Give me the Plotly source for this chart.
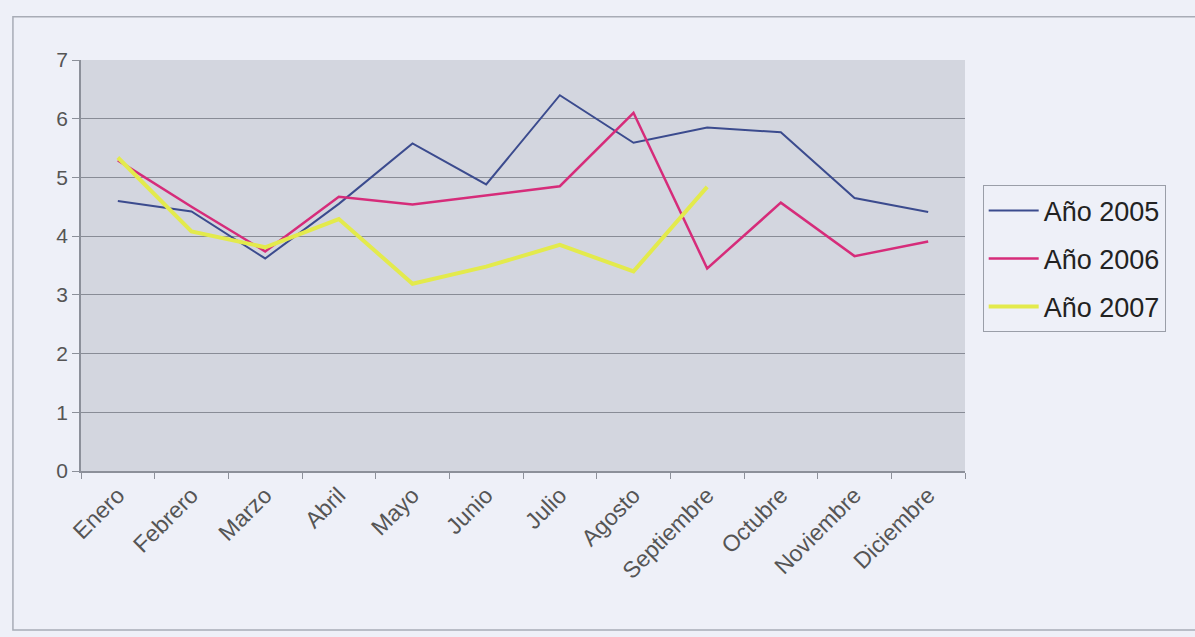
import plotly.graph_objects as go

meses = ["Enero", "Febrero", "Marzo", "Abril", "Mayo", "Junio", "Julio",
         "Agosto", "Septiembre", "Octubre", "Noviembre", "Diciembre"]
anio_2005 = [4.60, 4.42, 3.62, 4.55, 5.58, 4.88, 6.40, 5.59, 5.85, 5.77, 4.65, 4.41]
anio_2006 = [5.29, 4.50, 3.74, 4.67, 4.54, 4.70, 4.85, 6.10, 3.45, 4.57, 3.66, 3.91]
anio_2007 = [5.34, 4.08, 3.81, 4.29, 3.19, 3.48, 3.85, 3.40, 4.84]
y_ticks = [0, 1, 2, 3, 4, 5, 6, 7]

fig = go.Figure()
fig.add_trace(go.Scatter(x=meses, y=anio_2005, mode="lines", name="Año 2005",
                         line=dict(color="#3b4b8e", width=2), legendgroup="a"))
fig.add_trace(go.Scatter(x=meses, y=anio_2006, mode="lines", name="Año 2006",
                         line=dict(color="#d62c7a", width=2.5), legendgroup="b"))
fig.add_trace(go.Scatter(x=meses[:len(anio_2007)], y=anio_2007, mode="lines", name="Año 2007",
                         line=dict(color="#e3ea4c", width=4), legendgroup="c"))

fig.update_layout(
    width=1195, height=637,
    margin=dict(l=81, r=230, t=60, b=166),
    paper_bgcolor="#eef0f8",
    plot_bgcolor="#d3d6df",
    font=dict(family="Liberation Sans, Arial, sans-serif", color="#555555"),
    showlegend=True,
    legend=dict(x=1.02, y=0.695, xanchor="left", yanchor="top",
                bgcolor="#eef0f8", bordercolor="#9a9ea8", borderwidth=1,
                font=dict(size=27, color="#222222"), tracegroupgap=10,
                itemwidth=50),
    shapes=[dict(type="rect", xref="paper", yref="paper",
                 x0=-0.077, x1=1.4, y0=-0.387, y1=1.105,
                 line=dict(color="#a8acb6", width=1.5), layer="below")],
)
fig.update_xaxes(type="category", categoryorder="array", categoryarray=meses,
                 range=[-0.5, 11.5], tickangle=-45, tickson="boundaries",
                 ticks="outside", ticklen=6, tickcolor="#8c909a",
                 showline=True, linecolor="#8c909a", linewidth=1.5,
                 showgrid=False, tickfont=dict(size=23, color="#555555"))
fig.update_yaxes(range=[0, 7], tickvals=y_ticks, ticks="outside", ticklen=7,
                 tickcolor="#8c909a", showline=True, linecolor="#8c909a",
                 linewidth=1.5, gridcolor="#888c96", gridwidth=1.2,
                 zeroline=False, tickfont=dict(size=21, color="#555555"))

fig.write_html("out.html", config={"displayModeBar": False},
               post_script="document.body.style.margin='0';"
                           "document.body.style.background='#eef0f8';")
